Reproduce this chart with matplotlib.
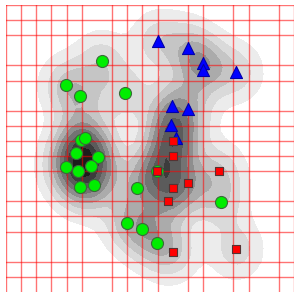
import numpy as np
import matplotlib
matplotlib.use("Agg")
import matplotlib.pyplot as plt

# ---- data (grid units) ----
green_x = [6.31, 3.96, 4.88, 7.85, 4.93, 5.21, 4.62, 6.05, 3.96, 4.76, 5.62, 4.91, 5.79, 8.62, 9.98, 14.17, 7.99, 8.99, 9.93]
green_y = [15.32, 13.73, 12.98, 13.16, 10.07, 10.18, 9.17, 8.92, 8.26, 8.01, 8.36, 6.97, 7.09, 6.91, 7.99, 5.98, 4.56, 4.17, 3.26]
blue_x = [10.05, 12.03, 12.97, 12.97, 15.19, 10.98, 12.03, 10.88, 11.21]
blue_y = [16.64, 16.18, 15.15, 14.70, 14.57, 12.33, 12.11, 11.08, 10.17]
red_x = [11.0, 11.0, 9.98, 14.07, 12.03, 11.0, 10.71, 11.0, 15.19]
red_y = [10.02, 9.01, 8.03, 8.01, 7.2, 6.87, 5.99, 2.63, 2.81]

grid_x = [0, 1, 2, 3, 4, 5, 7, 8, 9, 10, 12, 13, 15, 16, 18, 19]
grid_y = [1, 2, 4, 5, 6, 8, 9, 10, 11, 12, 14, 15, 17, 18, 19]

# ---- KDE (gaussian, Scott's rule scaled, full covariance) ----
pts = np.array([green_x + blue_x + red_x, green_y + blue_y + red_y])
n = pts.shape[1]
factor = n ** (-1.0 / 6) * 0.6
cov = np.cov(pts) * factor ** 2
inv = np.linalg.inv(cov)
gx = np.linspace(-1, 20, 50)
gy = np.linspace(-1, 20, 50)
XX, YY = np.meshgrid(gx, gy)
dens = np.zeros_like(XX)
for i in range(n):
    dx = XX - pts[0, i]
    dy = YY - pts[1, i]
    q = inv[0, 0] * dx * dx + 2 * inv[0, 1] * dx * dy + inv[1, 1] * dy * dy
    dens += np.exp(-0.5 * q)
dens /= dens.max()

levels = list(np.linspace(0.085, 1.0, 10) ** 1.2) + [1.01]

fig = plt.figure(figsize=(3, 3), dpi=100)
ax = fig.add_axes([0.02, 0.027, 0.96, 0.956])
cols = plt.get_cmap("Greys")(np.linspace(0.15, 1.0, len(levels) - 1))
ax.contourf(XX, YY, dens, levels=levels, colors=cols, zorder=1)

for v in grid_x:
    ax.axvline(v, color="red", alpha=0.55, lw=1, zorder=2)
for v in grid_y:
    ax.axhline(v, color="red", alpha=0.55, lw=1, zorder=2)

ax.scatter(green_x, green_y, s=75, marker="o", color="#00ee00", edgecolors="#3a6a3a", linewidths=0.8, zorder=3)
ax.scatter(blue_x, blue_y, s=75, marker="^", color="#0000ff", edgecolors="#0000aa", linewidths=0.8, zorder=4)
ax.scatter(red_x, red_y, s=32, marker="s", color="#ff0000", edgecolors="#553333", linewidths=0.8, zorder=5)

ax.set_xlim(0, 19)
ax.set_ylim(0, 19)
ax.axis("off")
fig.savefig("out.png", dpi=100, facecolor="white")
